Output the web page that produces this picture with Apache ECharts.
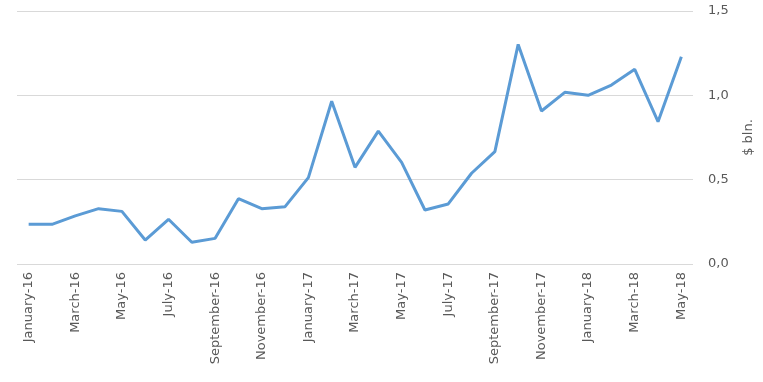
<!DOCTYPE html>
<html>
<head>
<meta charset="utf-8">
<script src="https://cdn.jsdelivr.net/npm/echarts@6/dist/echarts.min.js"></script>
<style>html,body{margin:0;padding:0;background:#fff}#c{width:763px;height:382px}</style>
</head>
<body>
<div id="c"></div>
<script>
const categories = ["January-16","February-16","March-16","April-16","May-16","June-16","July-16","August-16","September-16","October-16","November-16","December-16",
"January-17","February-17","March-17","April-17","May-17","June-17","July-17","August-17","September-17","October-17","November-17","December-17",
"January-18","February-18","March-18","April-18","May-18"];
const values = [0.235,0.235,0.285,0.328,0.312,0.142,0.265,0.129,0.152,0.387,0.328,0.340,
0.512,0.965,0.573,0.788,0.603,0.320,0.356,0.538,0.666,1.302,0.907,1.018,
1.000,1.061,1.154,0.844,1.229];
const yTicks = [0, 0.5, 1.0, 1.5];
const yName = "$ bln.";

const chart = echarts.init(document.getElementById('c'));
chart.setOption({
  animation: false,
  grid: {left: 17, right: 66, top: 11, bottom: 118},
  xAxis: {
    type: 'category',
    data: categories,
    boundaryGap: true,
    axisLine: {show: false},
    axisTick: {show: false},
    axisLabel: {rotate: 90, interval: 1, color: '#595959', fontFamily: 'DejaVu Sans', fontSize: 13, margin: 8}
  },
  yAxis: {
    type: 'value',
    position: 'right',
    min: yTicks[0],
    max: yTicks[yTicks.length-1],
    interval: 0.5,
    name: yName,
    nameLocation: 'middle',
    nameRotate: 90,
    nameGap: 49,
    nameTextStyle: {color: '#595959', fontFamily: 'DejaVu Sans', fontSize: 13},
    axisLine: {show: false},
    axisTick: {show: false},
    splitLine: {lineStyle: {color: '#d9d9d9', width: 1}},
    axisLabel: {color: '#595959', fontFamily: 'DejaVu Sans', fontSize: 13, margin: 15,
      formatter: v => v.toFixed(1).replace('.', ',')}
  },
  series: [{
    type: 'line',
    data: values,
    showSymbol: false,
    lineStyle: {color: '#5b9bd5', width: 3},
    itemStyle: {color: '#5b9bd5'}
  }]
});
</script>
</body>
</html>
